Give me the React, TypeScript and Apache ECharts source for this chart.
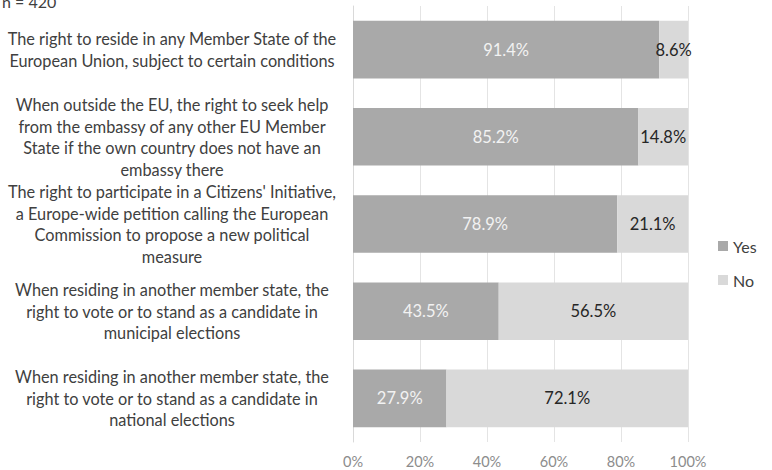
import React, { useEffect, useRef } from "react";
import * as echarts from "echarts";

const categories = [
  "The right to reside in any Member State of the\nEuropean Union, subject to certain conditions",
  "When outside the EU, the right to seek help\nfrom the embassy of any other EU Member\nState if the own country does not have an\nembassy there",
  "The right to participate in a Citizens' Initiative,\na Europe-wide petition calling the European\nCommission to propose a new political\nmeasure",
  "When residing in another member state, the\nright to vote or to stand as a candidate in\nmunicipal elections",
  "When residing in another member state, the\nright to vote or to stand as a candidate in\nnational elections",
];
const yesValues = [91.4, 85.2, 78.9, 43.5, 27.9];
const noValues = [8.6, 14.8, 21.1, 56.5, 72.1];
const seriesNames = ["Yes", "No"];
const sampleNote = "n = 420";

const FONT = "Lato, 'Open Sans', sans-serif";

export default function App() {
  const ref = useRef<HTMLDivElement>(null);
  useEffect(() => {
    if (!ref.current) return;
    const chart = echarts.init(ref.current, null, { renderer: "svg" });
    chart.setOption({
      animation: false,
      backgroundColor: "#ffffff",
      textStyle: { fontFamily: FONT },
      grid: { left: 353, right: 84, top: 6, bottom: 28, containLabel: false },
      legend: {
        orient: "vertical",
        left: 713,
        top: 233,
        itemWidth: 10,
        itemHeight: 10,
        itemGap: 18,
        icon: "rect",
        data: seriesNames,
        textStyle: { fontFamily: FONT, fontSize: 16, color: "#404040" },
      },
      graphic: [
        {
          type: "text",
          left: 2,
          top: -7,
          style: { text: sampleNote, font: `16px ${FONT}`, fill: "#404040" },
        },
      ],
      xAxis: {
        type: "value",
        min: 0,
        max: 100,
        interval: 20,
        axisLine: { show: false },
        axisTick: { show: false },
        axisLabel: {
          formatter: (v: number) => `${v}%`,
          color: "#8c8c8c",
          fontSize: 14.5,
          fontFamily: FONT,
          margin: 12,
        },
        splitLine: { show: true, lineStyle: { color: "#e4e4e4", width: 1 } },
      },
      yAxis: {
        type: "category",
        inverse: true,
        data: categories,
        axisLine: { show: true, lineStyle: { color: "#d9d9d9" } },
        axisTick: { show: false },
        axisLabel: {
          align: "center",
          margin: 181,
          color: "#404040",
          fontSize: 16.3,
          lineHeight: 21.5,
          fontFamily: FONT,
        },
      },
      series: [
        {
          name: seriesNames[0],
          type: "bar",
          stack: "total",
          barCategoryGap: "34%",
          data: yesValues,
          itemStyle: { color: "#a9a9a9" },
          label: {
            show: true,
            position: "inside",
            formatter: (p: any) => `${p.value.toFixed(1)}%`,
            color: "#f2f2f2",
            fontSize: 16.5,
            fontFamily: FONT,
          },
        },
        {
          name: seriesNames[1],
          type: "bar",
          stack: "total",
          data: noValues,
          itemStyle: { color: "#d9d9d9" },
          label: {
            show: true,
            position: "inside",
            formatter: (p: any) => `${p.value.toFixed(1)}%`,
            color: "#262626",
            fontSize: 16.5,
            fontFamily: FONT,
          },
        },
      ],
    });
    return () => chart.dispose();
  }, []);
  return (
    <div
      ref={ref}
      style={{ position: "fixed", left: 0, top: 0, width: 772, height: 470 }}
    />
  );
}
